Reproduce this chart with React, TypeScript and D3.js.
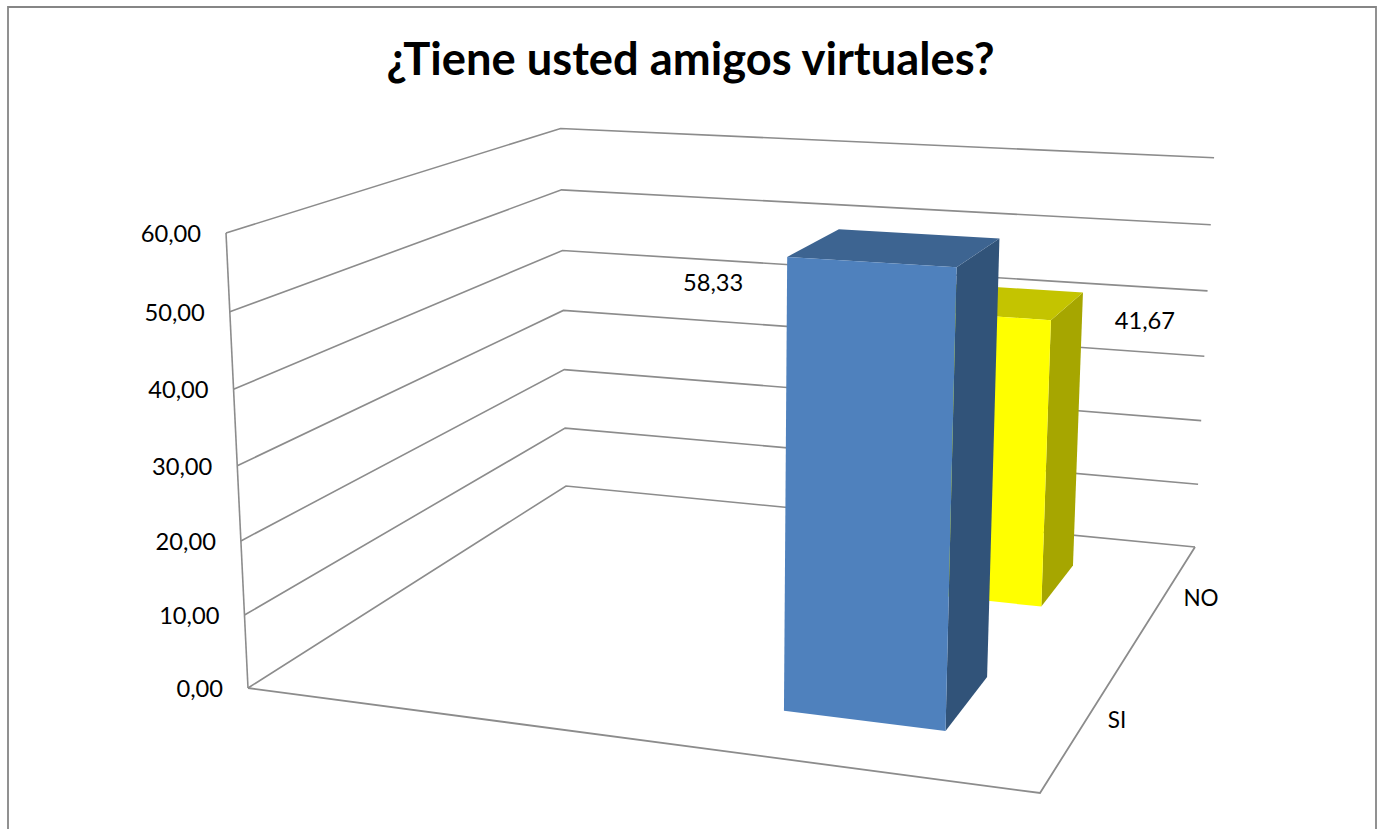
import React from "react";
import * as d3 from "d3";

const title = "¿Tiene usted amigos virtuales?";
const categories = ["SI", "NO"];
const values = [58.33, 41.67];
const valueLabels = ["58,33", "41,67"];
const yTicks = [0, 10, 20, 30, 40, 50, 60];
const yTickLabels = ["0,00", "10,00", "20,00", "30,00", "40,00", "50,00", "60,00"];

const W = 1382;
const H = 829;
const FONT = "Lato, Carlito, 'Open Sans', sans-serif";
const LINE = "#8c8c8c";

type P = [number, number];

// Floor plane corners in the picture: front-left, front-right, back-right, back-left
const floorCorners: P[] = [[248, 688], [1040, 793], [1195, 547], [566, 486]];
// Vanishing point of the vertical edges, and the height of the front-left corner
const verticalVP: P = [715, 10348];
const frontLeftTop: P = [226, 233];

function floorHomography(q: P[]) {
  const [p0, p1, p2, p3] = q;
  const dx1 = p1[0] - p2[0], dx2 = p3[0] - p2[0], sx = p0[0] - p1[0] + p2[0] - p3[0];
  const dy1 = p1[1] - p2[1], dy2 = p3[1] - p2[1], sy = p0[1] - p1[1] + p2[1] - p3[1];
  const det = dx1 * dy2 - dx2 * dy1;
  const g = (sx * dy2 - dx2 * sy) / det;
  const h = (dx1 * sy - sx * dy1) / det;
  return {
    a: p1[0] - p0[0] + g * p1[0], b: p3[0] - p0[0] + h * p3[0], c: p0[0],
    d: p1[1] - p0[1] + g * p1[1], e: p3[1] - p0[1] + h * p3[1], f: p0[1],
    g, h,
  };
}

const H0 = floorHomography(floorCorners);
// weight of the vertical axis, from the front-left corner's known top
const pw = (frontLeftTop[1] - floorCorners[0][1]) / (verticalVP[1] - frontLeftTop[1]);

const yScale = d3.scaleLinear().domain([0, 60]).range([0, 1]);
// depth position of each category's centre
const zScale = d3.scalePoint<string>().domain(categories).range([0.25, 0.75]);
const zHalf = 0.1;
const xBar: [number, number] = [0.651, 0.852];

// true 3D perspective: u along the front, z in depth, val upward
function project(u: number, z: number, val: number): P {
  const t = yScale(val);
  const w = H0.g * u + H0.h * z + 1 + t * pw;
  return [
    (H0.a * u + H0.b * z + H0.c + t * pw * verticalVP[0]) / w,
    (H0.d * u + H0.e * z + H0.f + t * pw * verticalVP[1]) / w,
  ];
}

const line = d3.line<P>();
const poly = (pts: P[]) => (line(pts) ?? "") + "Z";

const barColors = [
  { front: "#4f81bd", side: "#315379", top: "#3d6491" },
  { front: "#ffff00", side: "#a6a600", top: "#c4c400" },
];
const labelOffsets: P[] = [[-74, 34], [241, 19]];
const catLabelPos: P[] = [[1117, 720], [1201, 598]];

export default function App() {
  const order = [1, 0];
  return (
    <svg width={W} height={H} viewBox={`0 0 ${W} ${H}`} style={{ position: "absolute", left: 0, top: 0, background: "#fff" }}>
      <path d={`M8 ${H}V7H1376V${H}`} fill="none" stroke="#868686" strokeWidth={1.8} />
      <text x={690.5} y={75} textAnchor="middle" fontFamily={FONT} fontWeight={700} fontSize={45.3} fill="#000">{title}</text>

      {/* walls: gridlines run along the left wall and then the back wall */}
      {yTicks.map((t) => (
        <path key={t} d={line([project(0, 0, t), project(0, 1, t), project(1, 1, t)]) ?? ""} fill="none" stroke={LINE} strokeWidth={1.6} />
      ))}
      <path d={line([project(0, 0, 0), project(0, 0, 60)]) ?? ""} fill="none" stroke={LINE} strokeWidth={1.6} />
      {/* floor */}
      <path d={line([project(0, 0, 0), project(1, 0, 0), project(1, 1, 0)]) ?? ""} fill="none" stroke={LINE} strokeWidth={1.8} />

      {yTicks.map((t, i) => {
        const [x, y] = project(0, 0, t);
        return (
          <text key={t} x={x - 25} y={y + 9} textAnchor="end" fontFamily={FONT} fontSize={23.7} fill="#000">{yTickLabels[i]}</text>
        );
      })}

      {order.map((i) => {
        const c = zScale(categories[i]) as number;
        const z0 = c - zHalf, z1 = c + zHalf;
        const [x0, x1] = xBar;
        const v = values[i];
        const col = barColors[i];
        return (
          <g key={categories[i]}>
            <path d={poly([project(x1, z0, 0), project(x1, z1, 0), project(x1, z1, v), project(x1, z0, v)])} fill={col.side} />
            <path d={poly([project(x0, z0, v), project(x1, z0, v), project(x1, z1, v), project(x0, z1, v)])} fill={col.top} />
            <path d={poly([project(x0, z0, 0), project(x1, z0, 0), project(x1, z0, v), project(x0, z0, v)])} fill={col.front} />
          </g>
        );
      })}

      {values.map((v, i) => {
        const c = zScale(categories[i]) as number;
        const [x, y] = project(xBar[0], c - zHalf, v);
        return (
          <text key={i} x={x + labelOffsets[i][0]} y={y + labelOffsets[i][1]} textAnchor="middle" fontFamily={FONT} fontSize={23.7} fill="#000">{valueLabels[i]}</text>
        );
      })}

      {categories.map((c, i) => (
        <text key={c} x={catLabelPos[i][0]} y={catLabelPos[i][1] + 8} textAnchor="middle" fontFamily={FONT} fontSize={22.5} fill="#000">{c}</text>
      ))}
    </svg>
  );
}
